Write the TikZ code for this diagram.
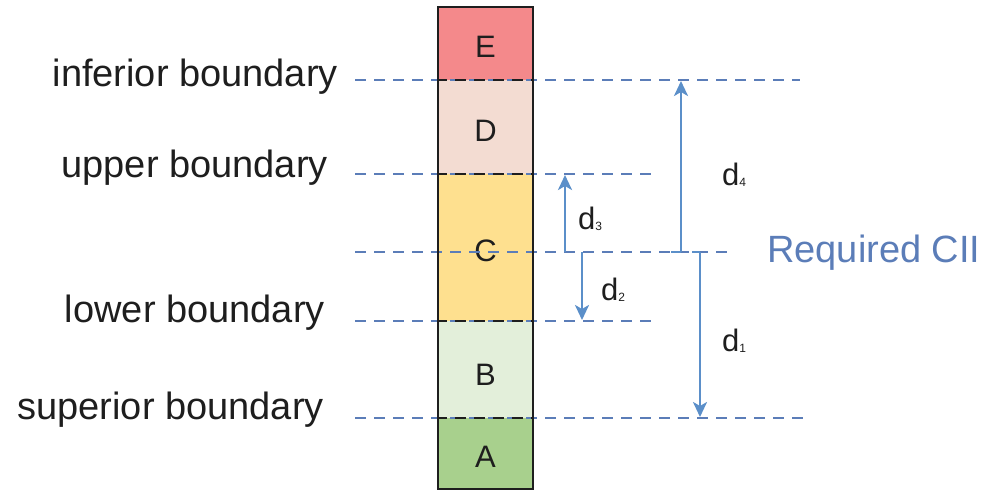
\documentclass[tikz,border=0pt]{standalone}
\usepackage{fontspec}
\setmainfont{Liberation Sans}
\usetikzlibrary{arrows.meta}
\definecolor{lineblue}{HTML}{5B7DB8}
\definecolor{arrowblue}{HTML}{5B8FC9}
\definecolor{textblue}{HTML}{5B7DB8}
\definecolor{fillE}{HTML}{F4898B}
\definecolor{fillD}{HTML}{F3DCD2}
\definecolor{fillC}{HTML}{FEE08F}
\definecolor{fillB}{HTML}{E3EFDA}
\definecolor{fillA}{HTML}{A8D08D}
\definecolor{ink}{HTML}{1E1E1E}
\tikzset{
  segbox/.style={draw=none, minimum width=95pt, inner sep=0pt, font=\fontsize{31}{34}\selectfont, text=ink},
  levelline/.style={lineblue, line width=2.2pt, dash pattern=on 11pt off 8pt},
  sepline/.style={ink, line width=2.2pt, dash pattern=on 11pt off 8pt},
  bndlabel/.style={anchor=east, inner sep=0pt, font=\fontsize{38}{42}\selectfont, text=ink},
  dist/.style={arrowblue, line width=2.6pt, -{Stealth[length=15pt,width=14pt,inset=4pt]}},
  dlabel/.style={inner sep=0pt, font=\fontsize{31}{34}\selectfont, text=ink},
}
\newcommand{\dsub}[1]{d\raisebox{-1pt}{\fontsize{12}{13}\selectfont #1}}
\begin{document}
\begin{tikzpicture}[x=1pt,y=-1pt]
\useasboundingbox (0,0) rectangle (989,491);

% column segments
\fill[fillE] (438,7) rectangle (533,80);
\fill[fillD] (438,80) rectangle (533,174);
\fill[fillC] (438,174) rectangle (533,321);
\fill[fillB] (438,321) rectangle (533,418);
\fill[fillA] (438,418) rectangle (533,489);
\node[segbox] (segE) at (485.5,47) {E};
\node[segbox] (segD) at (485.5,131) {D};
\node[segbox] (segC) at (485.5,251) {C};
\node[segbox] (segB) at (485.5,375) {B};
\node[segbox] (segA) at (485.5,457) {A};

% level coordinates
\coordinate (infL) at (355,80);   \coordinate (infR) at (800,80);
\coordinate (uppL) at (355,174);  \coordinate (uppR) at (655,174);
\coordinate (reqL) at (355,252);  \coordinate (reqR) at (730,252);
\coordinate (lowL) at (355,321);  \coordinate (lowR) at (655,321);
\coordinate (supL) at (355,418);  \coordinate (supR) at (805,418);

% dashed levels
\draw[levelline] (infL) -- (infR);
\draw[levelline] (uppL) -- (uppR);
\draw[levelline] (reqL) -- (reqR);
\draw[levelline] (lowL) -- (lowR);
\draw[levelline] (supL) -- (supR);

% separators inside the column
\draw[sepline, dash phase=2pt] (438,80) -- (533,80);
\draw[sepline, dash phase=2pt] (438,174) -- (533,174);
\draw[sepline, dash phase=2pt] (438,321) -- (533,321);
\draw[sepline, dash phase=2pt] (438,418) -- (533,418);

% column outline
\draw[ink, line width=2pt] (438,7) rectangle (533,489);

% boundary labels
\node[bndlabel] (lblInf) at (338,77) {inferior boundary};
\node[bndlabel] (lblUpp) at (328,168) {upper boundary};
\node[bndlabel] (lblLow) at (325,313) {lower boundary};
\node[bndlabel] (lblSup) at (324,410) {superior boundary};
\node[anchor=west, inner sep=0pt, font=\fontsize{38}{42}\selectfont, text=textblue] (lblReq) at (767,253) {Required CII};

% distance arrows
\coordinate (d4a) at (681,252); \coordinate (d4b) at (681,81);
\coordinate (d1a) at (700,252); \coordinate (d1b) at (700,417);
\coordinate (d3a) at (565,252); \coordinate (d3b) at (565,175);
\coordinate (d2a) at (582,252); \coordinate (d2b) at (582,320);
\draw[dist] (d4a) -- (d4b);
\draw[dist] (d1a) -- (d1b);
\draw[dist] (d3a) -- (d3b);
\draw[dist] (d2a) -- (d2b);
\draw[arrowblue, line width=2.6pt] (692,252) -- (d1a);
\draw[arrowblue, line width=2.6pt] (671,252) -- (d4a);

% distance labels
\node[dlabel, anchor=west] (lbl4) at (722,175) {\dsub{4}};
\node[dlabel, anchor=west] (lbl3) at (578,219) {\dsub{3}};
\node[dlabel, anchor=west] (lbl2) at (601,290) {\dsub{2}};
\node[dlabel, anchor=west] (lbl1) at (722,341) {\dsub{1}};
\end{tikzpicture}
\end{document}
